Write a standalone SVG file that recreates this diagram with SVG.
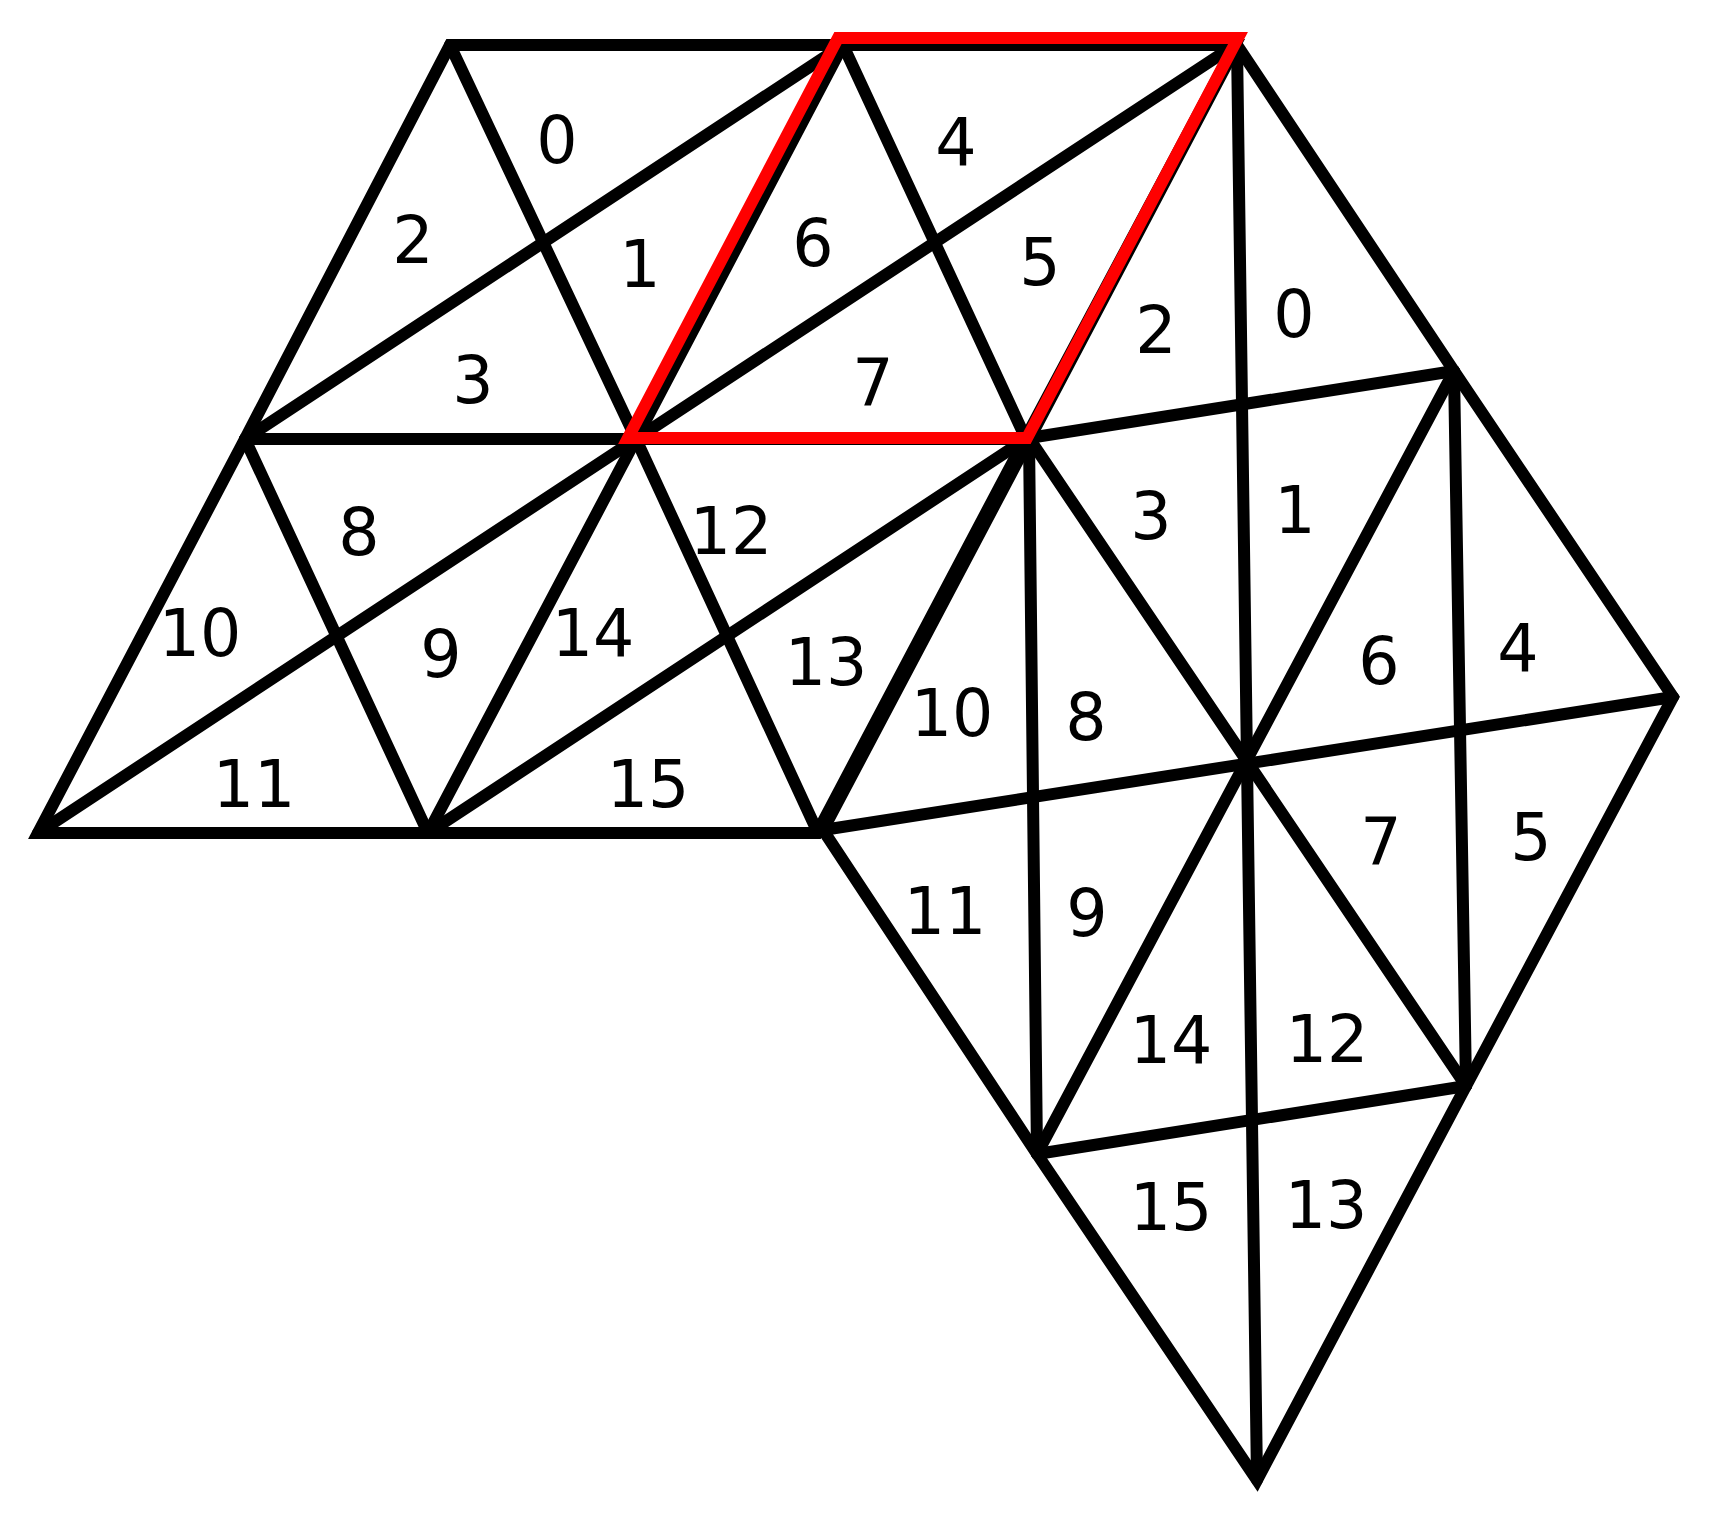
<svg xmlns="http://www.w3.org/2000/svg" width="1712" height="1525" viewBox="0 0 1712 1525">
<style>
.edge{fill:none;stroke:#000;stroke-width:12;stroke-linejoin:miter;stroke-miterlimit:10}
.ln{stroke:#000;stroke-width:12;stroke-linecap:round}
.hl{fill:none;stroke:#ff0000;stroke-width:12;stroke-linejoin:miter;stroke-miterlimit:10}
.lb{font-family:"DejaVu Sans","Verdana",sans-serif;font-size:65px;fill:#000;text-anchor:middle}
</style>
<rect width="1712" height="1525" fill="#fff"/>
<g id="left-mesh">
  <g id="left-lines">
    <line class="ln" x1="245" y1="439" x2="1026" y2="439"/>
    <line class="ln" x1="843" y1="45" x2="636" y2="439"/>
    <line class="ln" x1="636" y1="439" x2="428" y2="833"/>
    <line class="ln" x1="450" y1="45" x2="636" y2="439"/>
    <line class="ln" x1="636" y1="439" x2="818" y2="833"/>
    <line class="ln" x1="843" y1="45" x2="1026" y2="439"/>
    <line class="ln" x1="245" y1="439" x2="428" y2="833"/>
    <line class="ln" x1="843" y1="45" x2="245" y2="439"/>
    <line class="ln" x1="1235" y1="45" x2="636" y2="439"/>
    <line class="ln" x1="636" y1="439" x2="38" y2="833"/>
    <line class="ln" x1="1026" y1="439" x2="428" y2="833"/>
  </g>
  <polygon id="left-outline" class="edge" points="450,45 1235,45 1025,439 817,833 38,833 245,439"/>
</g>
<g id="right-mesh">
  <g id="right-lines">
    <line class="ln" x1="1029" y1="438" x2="1466" y2="1086"/>
    <line class="ln" x1="1454" y1="371" x2="1037" y2="1154"/>
    <line class="ln" x1="1237" y1="45" x2="1257" y2="1480"/>
    <line class="ln" x1="1029" y1="438" x2="1037" y2="1154"/>
    <line class="ln" x1="1454" y1="371" x2="1466" y2="1086"/>
    <line class="ln" x1="1029" y1="438" x2="1454" y2="371"/>
    <line class="ln" x1="823" y1="830" x2="1673" y2="697"/>
    <line class="ln" x1="1037" y1="1154" x2="1466" y2="1086"/>
  </g>
  <polygon id="right-outline" class="edge" points="1237,45 1454,371 1673,697 1466,1086 1257,1480 1037,1154 823,830 1030,438"/>
</g>
<polygon id="highlight" class="hl" points="838,38 1238,38 1027,438 628,438"/>
<g id="labels-left" class="lb">
  <text x="557" y="163">0</text>
  <text x="640" y="287">1</text>
  <text x="413" y="263">2</text>
  <text x="473" y="403">3</text>
  <text x="956" y="165">4</text>
  <text x="1040" y="285">5</text>
  <text x="813" y="266">6</text>
  <text x="873" y="406">7</text>
  <text x="359" y="555">8</text>
  <text x="441" y="677">9</text>
  <text x="200" y="656">10</text>
  <text x="254" y="807">11</text>
  <text x="731" y="554">12</text>
  <text x="826" y="685">13</text>
  <text x="593" y="656">14</text>
  <text x="648" y="807">15</text>
</g>
<g id="labels-right" class="lb">
  <text x="1294" y="337">0</text>
  <text x="1295" y="533">1</text>
  <text x="1156" y="353">2</text>
  <text x="1151" y="539">3</text>
  <text x="1518" y="671">4</text>
  <text x="1531" y="860">5</text>
  <text x="1379" y="684">6</text>
  <text x="1381" y="865">7</text>
  <text x="1086" y="740">8</text>
  <text x="1087" y="936">9</text>
  <text x="952" y="736">10</text>
  <text x="945" y="934">11</text>
  <text x="1327" y="1062">12</text>
  <text x="1326" y="1228">13</text>
  <text x="1171" y="1063">14</text>
  <text x="1171" y="1230">15</text>
</g>
</svg>
